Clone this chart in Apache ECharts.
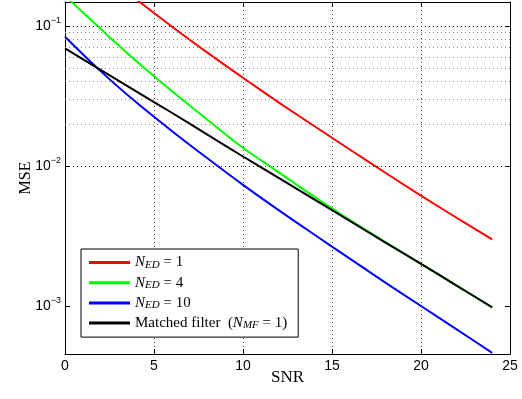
<!DOCTYPE html>
<html>
<head>
<meta charset="utf-8">
<script src="https://cdn.jsdelivr.net/npm/echarts@6/dist/echarts.min.js"></script>
<style>
  html, body { margin: 0; padding: 0; background: #fff; }
  #chart { width: 522px; height: 399px; }
</style>
</head>
<body>
<div id="chart"></div>
<script>
// values (SNR in dB, MSE on log axis)
const snr = [0, 2, 4, 6, 8, 10, 12, 14, 16, 18, 20, 22, 24];
const mseEd1 = [null, null, 0.155, 0.0993, 0.0646, 0.0427, 0.0285, 0.0193, 0.01312, 0.00895, 0.00614, 0.00427, 0.00299];
const mseEd4 = [0.164, 0.0955, 0.0562, 0.0343, 0.0214, 0.0135, 0.00903, 0.00605, 0.00412, 0.00286, 0.00200, 0.00140, 0.000977];
const mseEd10 = [0.0839, 0.0476, 0.0285, 0.0178, 0.01135, 0.00733, 0.00484, 0.00324, 0.00218, 0.00147, 0.00100, 0.000681, 0.000463];
const mseMf = [0.0693, 0.0486, 0.0341, 0.0240, 0.01675, 0.01169, 0.00822, 0.00578, 0.00405, 0.00284, 0.00200, 0.00140, 0.000977];

const seriesNames = ["N_ED = 1", "N_ED = 4", "N_ED = 10", "Matched filter (N_MF = 1)"];
const legendLabels = [
  "{i|N}{sub|ED}{t| = 1}",
  "{i|N}{sub|ED}{t| = 4}",
  "{i|N}{sub|ED}{t| = 10}",
  "{t|Matched filter  (}{i|N}{sub|MF}{t| = 1)}",
];
const seriesColors = ["#ff0000", "#00ff00", "#0000ff", "#000000"];

const majorGrid = [0.001, 0.01, 0.1];
const minorGrid = [
  0.0005, 0.0006, 0.0007, 0.0008, 0.0009,
  0.002, 0.003, 0.004, 0.005, 0.006, 0.007, 0.008, 0.009,
  0.02, 0.03, 0.04, 0.05, 0.06, 0.07, 0.08, 0.09,
];

const yMin = 4.54e-4;
const yMax = 0.1484;

const chart = echarts.init(document.getElementById("chart"));

const serif = "Liberation Serif";
const sans = "Liberation Sans";

function pairs(values) {
  return snr.map((s, i) => [s, values[i]]);
}

function powerLabel(v) {
  const e = Math.log10(v);
  const r = Math.round(e);
  if (Math.abs(e - r) > 1e-6) return "";
  return "{b|10}{s|" + (r < 0 ? "\u2212" + -r : r) + "}";
}

const gridLines = [
  ...minorGrid.map((v) => ({ yAxis: v, lineStyle: { color: "#8a8a8a" } })),
  ...majorGrid.map((v) => ({ yAxis: v, lineStyle: { color: "#222" } })),
];

const xAxisBase = {
  type: "value",
  min: 0,
  max: 25,
  interval: 5,
  axisLine: { onZero: false, lineStyle: { color: "#000", width: 1 } },
  axisTick: { inside: true, length: 5, lineStyle: { color: "#000" } },
};

const yAxisBase = {
  type: "log",
  logBase: 10,
  min: yMin,
  max: yMax,
  axisLine: { onZero: false, lineStyle: { color: "#000", width: 1 } },
  axisTick: { inside: true, length: 5, lineStyle: { color: "#000" } },
  splitLine: { show: false },
};

const option = {
  animation: false,
  backgroundColor: "#fff",
  grid: { left: 65, right: 12, top: 2, bottom: 45 },

  xAxis: [
    {
      ...xAxisBase,
      position: "bottom",
      name: "SNR",
      nameLocation: "middle",
      nameGap: 15,
      nameMoveOverlap: false,
      nameTextStyle: { fontFamily: serif, fontSize: 17, color: "#000", verticalAlign: "top" },
      axisLabel: { margin: 5, fontFamily: sans, fontSize: 14, color: "#000" },
      splitLine: { show: true, lineStyle: { type: [1, 3], color: "#444", width: 1 } },
    },
    {
      ...xAxisBase,
      position: "top",
      axisLabel: { show: false },
      splitLine: { show: false },
    },
  ],

  yAxis: [
    {
      ...yAxisBase,
      position: "left",
      name: "MSE",
      nameLocation: "middle",
      nameGap: 31,
      nameMoveOverlap: false,
      nameTextStyle: { fontFamily: serif, fontSize: 16, color: "#000" },
      axisLabel: {
        margin: 4,
        formatter: powerLabel,
        rich: {
          b: { fontFamily: sans, fontSize: 14, lineHeight: 20, color: "#000" },
          s: { fontFamily: sans, fontSize: 9, lineHeight: 10, verticalAlign: "top", color: "#000" },
        },
      },
    },
    {
      ...yAxisBase,
      position: "right",
      axisLabel: { show: false },
    },
  ],

  legend: {
    orient: "vertical",
    left: 81,
    top: 249,
    padding: [6, 11, 6, 8],
    itemGap: 4.7,
    itemWidth: 41,
    itemHeight: 3,
    icon: "rect",
    backgroundColor: "#fff",
    borderColor: "#000",
    borderWidth: 1,
    borderRadius: 0,
    data: seriesNames,
    formatter: (name) => legendLabels[seriesNames.indexOf(name)],
    textStyle: {
      color: "#000",
      rich: {
        t: { fontFamily: serif, fontSize: 15, lineHeight: 16, color: "#000" },
        i: { fontFamily: serif, fontSize: 15, lineHeight: 16, fontStyle: "italic", color: "#000" },
        sub: { fontFamily: serif, fontSize: 11, lineHeight: 10, fontStyle: "italic", verticalAlign: "bottom", color: "#000" },
      },
    },
  },

  series: [
    {
      // dotted log grid lines
      type: "line",
      data: [],
      z: 0,
      silent: true,
      markLine: {
        silent: true,
        symbol: "none",
        label: { show: false },
        lineStyle: { type: [1, 3], width: 1 },
        data: gridLines,
      },
    },
    ...[mseEd1, mseEd4, mseEd10, mseMf].map((values, i) => ({
      name: seriesNames[i],
      type: "line",
      data: pairs(values),
      showSymbol: false,
      smooth: 0.3,
      clip: true,
      z: 3 + i,
      color: seriesColors[i],
      lineStyle: { width: 2, color: seriesColors[i] },
    })),
  ],
};

chart.setOption(option);
</script>
</body>
</html>
